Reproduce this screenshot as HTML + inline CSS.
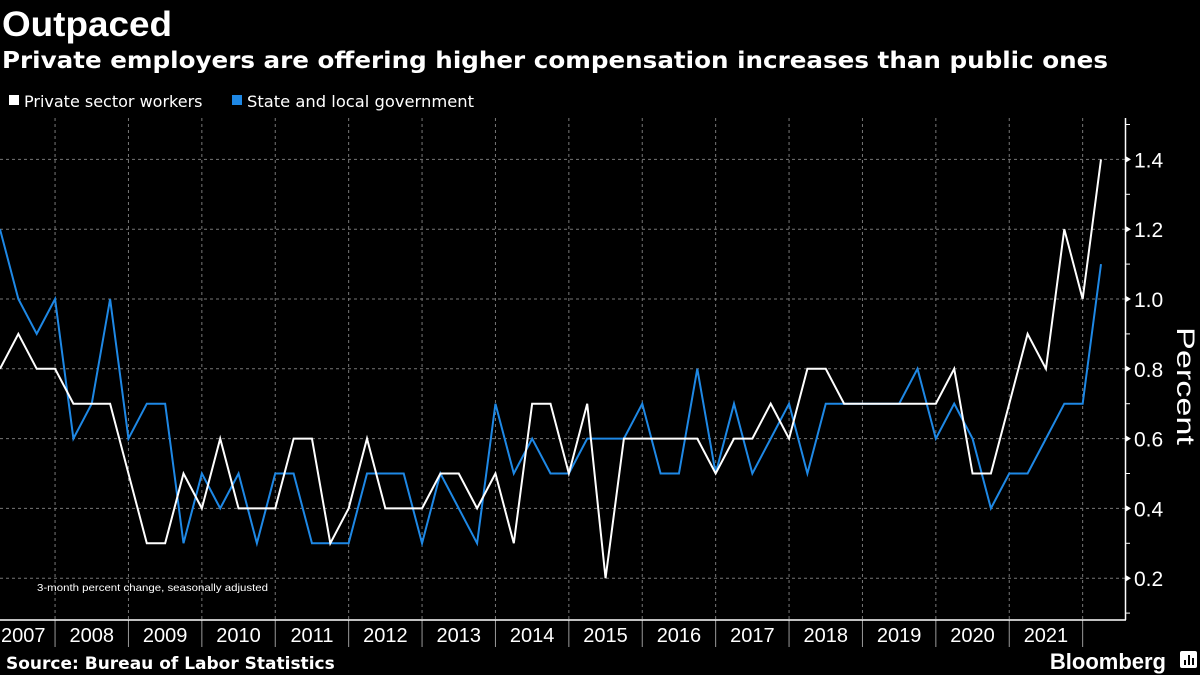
<!DOCTYPE html>
<html><head><meta charset="utf-8"><style>
html,body{margin:0;padding:0;background:#000;width:1200px;height:675px;overflow:hidden}
svg{display:block;font-family:"Liberation Sans","DejaVu Sans",sans-serif}
</style></head><body>
<svg id="chart" width="1200" height="675" xmlns="http://www.w3.org/2000/svg">
<rect width="1200" height="675" fill="#000"/>
<text x="2" y="36" fill="#fff" font-size="35" font-weight="bold" textLength="170" lengthAdjust="spacingAndGlyphs">Outpaced</text>
<text x="2" y="68" fill="#fff" font-size="23" font-weight="bold" font-family="DejaVu Sans, sans-serif" textLength="1106" lengthAdjust="spacingAndGlyphs">Private employers are offering higher compensation increases than public ones</text>
<g>
<rect x="9" y="95" width="10" height="10" fill="#fff"/>
<text x="24" y="107" fill="#fff" font-size="16" font-family="DejaVu Sans, sans-serif">Private sector workers</text>
<rect x="232" y="95" width="10" height="10" fill="#1e88e5"/>
<text x="247" y="107" fill="#fff" font-size="16" font-family="DejaVu Sans, sans-serif" textLength="227" lengthAdjust="spacingAndGlyphs">State and local government</text>
</g>
<g id="grid"></g>
<g id="axes"></g>
<g id="series"></g>
<text x="37" y="591" fill="#fff" font-size="10.5" textLength="231" lengthAdjust="spacingAndGlyphs">3-month percent change, seasonally adjusted</text>
<text transform="translate(1177,386) rotate(90)" fill="#fff" font-size="25" text-anchor="middle" textLength="118" lengthAdjust="spacingAndGlyphs">Percent</text>
<text x="6" y="669" fill="#fff" font-size="17" font-weight="bold" font-family="DejaVu Sans, sans-serif">Source: Bureau of Labor Statistics</text>
<text x="1166" y="669" fill="#fff" font-size="22" font-weight="bold" text-anchor="end">Bloomberg</text>
<g><rect x="1180" y="651" width="17" height="17" rx="2" fill="#fff"/><rect x="1184" y="660" width="2" height="5" fill="#000"/><rect x="1188" y="655" width="2" height="10" fill="#000"/><rect x="1192" y="658" width="2" height="7" fill="#000"/></g>
</svg>
<script>
const years=["2007","2008","2009","2010","2011","2012","2013","2014","2015","2016","2017","2018","2019","2020","2021"];
const yTicks=[0.2,0.4,0.6,0.8,1.0,1.2,1.4];
const privateSeries=[0.8,0.9,0.8,0.8,0.7,0.7,0.7,0.5,0.3,0.3,0.5,0.4,0.6,0.4,0.4,0.4,0.6,0.6,0.3,0.4,0.6,0.4,0.4,0.4,0.5,0.5,0.4,0.5,0.3,0.7,0.7,0.5,0.7,0.2,0.6,0.6,0.6,0.6,0.6,0.5,0.6,0.6,0.7,0.6,0.8,0.8,0.7,0.7,0.7,0.7,0.7,0.7,0.8,0.5,0.5,0.7,0.9,0.8,1.2,1.0,1.4];
const stateSeries=[1.2,1.0,0.9,1.0,0.6,0.7,1.0,0.6,0.7,0.7,0.3,0.5,0.4,0.5,0.3,0.5,0.5,0.3,0.3,0.3,0.5,0.5,0.5,0.3,0.5,0.4,0.3,0.7,0.5,0.6,0.5,0.5,0.6,0.6,0.6,0.7,0.5,0.5,0.8,0.5,0.7,0.5,0.6,0.7,0.5,0.7,0.7,0.7,0.7,0.7,0.8,0.6,0.7,0.6,0.4,0.5,0.5,0.6,0.7,0.7,1.1];
const NS='http://www.w3.org/2000/svg';
const Q=18.35, firstQ=-3;
const xOf=i=>(i+firstQ)*Q+55.05;
const yOf=v=>648-v*349;
const yearX=k=>55.05+73.4*(k-1);
function mk(tag,attrs,parent){const e=document.createElementNS(NS,tag);for(const k in attrs)e.setAttribute(k,attrs[k]);parent.appendChild(e);return e;}
const grid=document.getElementById('grid'),axes=document.getElementById('axes'),series=document.getElementById('series');
yTicks.forEach(v=>{
  const l=mk('line',{x1:0,x2:1125,y1:yOf(v),y2:yOf(v),stroke:'#777','stroke-width':1,'stroke-dasharray':'3,3'},grid);
  
  
  const t=mk('text',{x:1134,y:yOf(v)+8,fill:'#fff','font-size':21},axes);
  t.textContent=v.toFixed(1);
  
  
  const tk=mk('path',{d:`M1126 ${yOf(v)-3} L1131 ${yOf(v)} L1126 ${yOf(v)+3}Z`,fill:'#fff'},axes);
  
  
});
for(let v=0.1;v<1.55;v+=0.2){
  const m=mk('line',{x1:1125,x2:1130,y1:yOf(v),y2:yOf(v),stroke:'#fff','stroke-width':1},axes);
  
  
}
years.forEach((y,k)=>{
  const x0=k===0?0:yearX(k), x1=yearX(k+1);
  const g=mk('line',{x1:x1,x2:x1,y1:118,y2:620,stroke:'#777','stroke-width':1,'stroke-dasharray':'3,3'},grid);
  
  
  const s=mk('line',{x1:x1,x2:x1,y1:620,y2:647,stroke:'#999','stroke-width':1},axes);
  
  
  const t=mk('text',{x:k===0?1:(x0+x1)/2,y:642,fill:'#fff','font-size':20,'text-anchor':k===0?'start':'middle'},axes);
  t.textContent=y;
  
  
});
const xa=mk('line',{x1:0,x2:1126,y1:620,y2:620,stroke:'#fff','stroke-width':1.5},axes);


const ya=mk('line',{x1:1125.5,x2:1125.5,y1:118,y2:620,stroke:'#fff','stroke-width':1.5},axes);


function line(data){return data.map((v,i)=>(i?'L':'M')+xOf(i).toFixed(2)+' '+yOf(v).toFixed(2)).join(' ');}
const ps=mk('path',{d:line(stateSeries),fill:'none',stroke:'#1e88e5','stroke-width':2},series);


const pp=mk('path',{d:line(privateSeries),fill:'none',stroke:'#fff','stroke-width':2},series);


</script>
</body></html>
